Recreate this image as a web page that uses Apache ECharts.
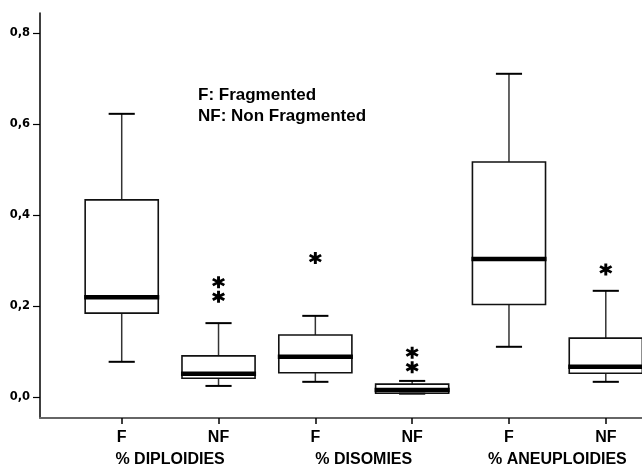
<!DOCTYPE html>
<html>
<head>
<meta charset="utf-8">
<script src="https://cdn.jsdelivr.net/npm/echarts@6/dist/echarts.min.js"></script>
<style>
html,body{margin:0;padding:0;background:#fff;}
#chart{width:642px;height:470px;}
</style>
</head>
<body>
<div id="chart"></div>
<script>
// ---- data ----
const categories = ['F', 'NF', 'F', 'NF', 'F', 'NF'];
const groups = ['% DIPLOIDIES', '% DISOMIES', '% ANEUPLOIDIES'];
const yTicks = [0, 0.2, 0.4, 0.6, 0.8];
const whiskerLow  = [0.078, 0.025, 0.034, 0.008, 0.111, 0.034];
const q1          = [0.185, 0.042, 0.054, 0.009, 0.204, 0.053];
const median      = [0.220, 0.052, 0.089, 0.016, 0.304, 0.067];
const q3          = [0.434, 0.091, 0.137, 0.029, 0.517, 0.130];
const whiskerHigh = [0.623, 0.163, 0.179, 0.036, 0.711, 0.234];
const outlierCategory = [1, 1, 2, 3, 3, 5];
const outlierValue    = [0.253, 0.221, 0.306, 0.098, 0.066, 0.281];

// ---- build ----
const catPos = categories.map((c, i) => i + 1);
const groupPos = groups.map((g, i) => 2 * i + 1.5);
const boxData = categories.map((c, i) => [catPos[i], whiskerLow[i], q1[i], median[i], q3[i], whiskerHigh[i]]);
const outlierData = outlierCategory.map((c, i) => [catPos[c], outlierValue[i]]);

const ASTERISK = 'path://M61 0L61 100L39 100L39 0Z M12.2 15.47L98.8 65.47L87.8 84.53L1.2 34.53Z M98.8 34.53L12.2 84.53L1.2 65.47L87.8 15.47Z';

function renderBox(params, api) {
  const x = api.value(0);
  const pLow = api.coord([x, api.value(1)]);
  const pQ1 = api.coord([x, api.value(2)]);
  const pMed = api.coord([x, api.value(3)]);
  const pQ3 = api.coord([x, api.value(4)]);
  const pHigh = api.coord([x, api.value(5)]);
  const bw = api.size([0.755, 0])[0];
  const cw = api.size([0.27, 0])[0];
  const cx = pMed[0];
  return {
    type: 'group',
    children: [
      { type: 'line', shape: { x1: cx, y1: pQ3[1], x2: cx, y2: pHigh[1] }, style: { stroke: '#333', lineWidth: 1.5 } },
      { type: 'line', shape: { x1: cx, y1: pQ1[1], x2: cx, y2: pLow[1] }, style: { stroke: '#333', lineWidth: 1.5 } },
      { type: 'line', shape: { x1: cx - cw / 2, y1: pHigh[1], x2: cx + cw / 2, y2: pHigh[1] }, style: { stroke: '#000', lineWidth: 2 } },
      { type: 'line', shape: { x1: cx - cw / 2, y1: pLow[1], x2: cx + cw / 2, y2: pLow[1] }, style: { stroke: '#000', lineWidth: 2 } },
      { type: 'rect', shape: { x: cx - bw / 2, y: pQ3[1], width: bw, height: pQ1[1] - pQ3[1] }, style: { fill: 'rgba(255,255,255,0)', stroke: '#111', lineWidth: 1.6 } },
      { type: 'line', shape: { x1: cx - bw / 2 - 1, y1: pMed[1], x2: cx + bw / 2 + 1, y2: pMed[1] }, style: { stroke: '#000', lineWidth: 4.5 } }
    ]
  };
}

const chart = echarts.init(document.getElementById('chart'), null, { renderer: 'canvas' });
chart.setOption({
  animation: false,
  backgroundColor: '#fff',
  grid: { left: 40, right: 0, top: 13, bottom: 52, containLabel: false },
  xAxis: [
    {
      type: 'value', min: 0.156, max: 6.374, position: 'bottom',
      splitLine: { show: false },
      axisLine: { show: true, onZero: false, lineStyle: { color: '#666', width: 2.2 } },
      axisTick: { show: true, length: 6, customValues: catPos, lineStyle: { color: '#000', width: 1.5 } },
      axisLabel: {
        customValues: catPos, margin: 12,
        fontFamily: 'Liberation Sans', fontWeight: 'bold', fontSize: 16, color: '#000',
        formatter: v => categories[Math.round(v) - 1]
      }
    },
    {
      type: 'value', min: 0.156, max: 6.374, position: 'bottom', offset: 22,
      splitLine: { show: false },
      axisLine: { show: false },
      axisTick: { show: false },
      axisLabel: {
        customValues: groupPos, margin: 12,
        fontFamily: 'Liberation Sans', fontWeight: 'bold', fontSize: 16, color: '#000',
        formatter: v => groups[Math.round((v - 1.5) / 2)]
      }
    }
  ],
  yAxis: {
    type: 'value', min: -0.0455, max: 0.8446,
    splitLine: { show: false },
    axisLine: { show: true, onZero: false, lineStyle: { color: '#000', width: 1.5 } },
    axisTick: { show: true, length: 7, customValues: yTicks, lineStyle: { color: '#000', width: 1.2 } },
    axisLabel: {
      customValues: yTicks, margin: 10,
      fontFamily: 'DejaVu Sans', fontWeight: 'bold', fontSize: 11.5, color: '#000',
      formatter: v => v.toFixed(1).replace('.', ',')
    }
  },
  graphic: [
    { type: 'text', left: 198, top: 87, style: { text: 'F: Fragmented', fontFamily: 'Liberation Sans', fontWeight: 'bold', fontSize: 17, fill: '#000' } },
    { type: 'text', left: 198, top: 107.5, style: { text: 'NF: Non Fragmented', fontFamily: 'Liberation Sans', fontWeight: 'bold', fontSize: 17, fill: '#000' } }
  ],
  series: [
    {
      type: 'custom', xAxisIndex: 0, yAxisIndex: 0,
      renderItem: renderBox,
      encode: { x: 0, y: [1, 2, 3, 4, 5] },
      data: boxData, clip: false, z: 2
    },
    {
      type: 'scatter', xAxisIndex: 0, yAxisIndex: 0,
      symbol: ASTERISK, symbolSize: [13, 12], symbolKeepAspect: false,
      itemStyle: { color: '#000', opacity: 1 },
      data: outlierData, z: 3
    }
  ]
});
</script>
</body>
</html>
